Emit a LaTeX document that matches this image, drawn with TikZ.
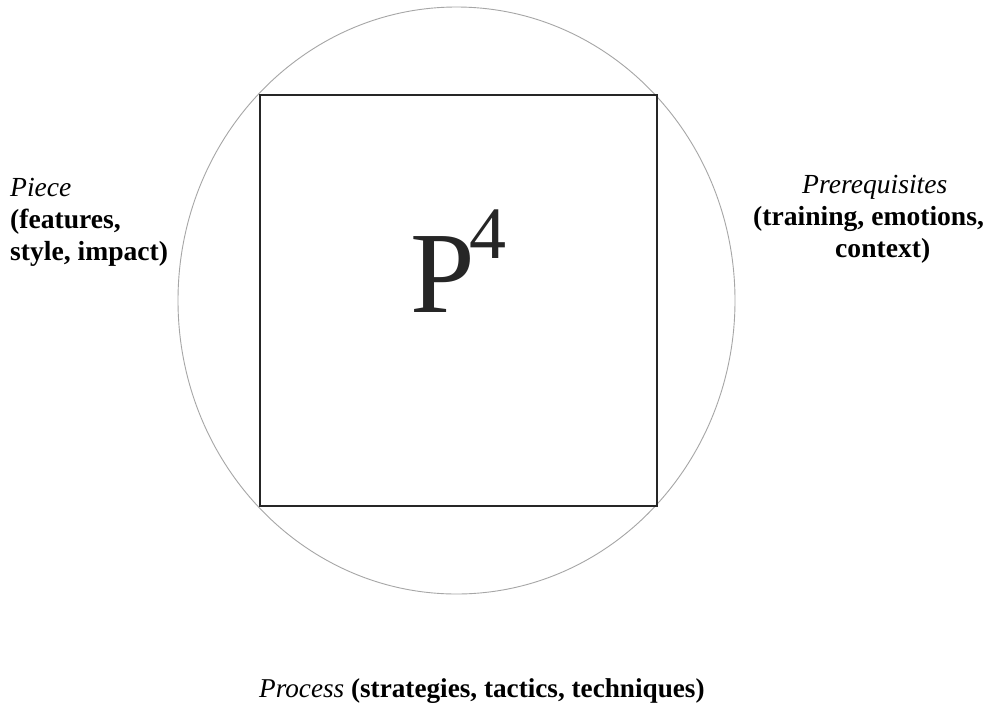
\documentclass[tikz,border=0pt]{standalone}
\usepackage{fontspec}
\setmainfont{Liberation Serif}
\begin{document}
\begin{tikzpicture}[x=1pt,y=-1pt,
  lbl/.style={inner sep=0pt,anchor=base west,font=\fontsize{27.6}{33}\selectfont},
  circ/.style={draw=gray!70,line width=0.9pt},
  sq/.style={draw=black!85,line width=2pt}]
\useasboundingbox (0,0) rectangle (985,705);
\fill[white] (0,0) rectangle (985,705);
\draw[circ] (456.5,300.5) ellipse [x radius=278.5pt, y radius=293.5pt];
\node[sq,minimum width=397pt,minimum height=411pt,inner sep=0pt] (box) at (458.5,300.5) {};
\node[inner sep=0pt,anchor=base west,font=\fontsize{116}{116}\selectfont,text=black!85] (p4) at (410,312)
  {P\kern-5.5pt{\fontsize{74}{74}\selectfont\raisebox{54pt}{4}}};
\node[lbl] (piece1) at (10,196) {\itshape Piece};
\node[lbl] (piece2) at (10,228) {\bfseries (features,};
\node[lbl] (piece3) at (10,260) {\bfseries style, impact)};
\node[lbl] (pre1) at (802,193) {\itshape Prerequisites};
\node[lbl] (pre2) at (753,225) {\bfseries (training, emotions,};
\node[lbl] (pre3) at (835,257) {\bfseries context)};
\node[lbl,font=\fontsize{27.2}{33}\selectfont] (proc) at (259,697) {\itshape Process\/\bfseries\upshape{} (strategies, tactics, techniques)};
\end{tikzpicture}
\end{document}
